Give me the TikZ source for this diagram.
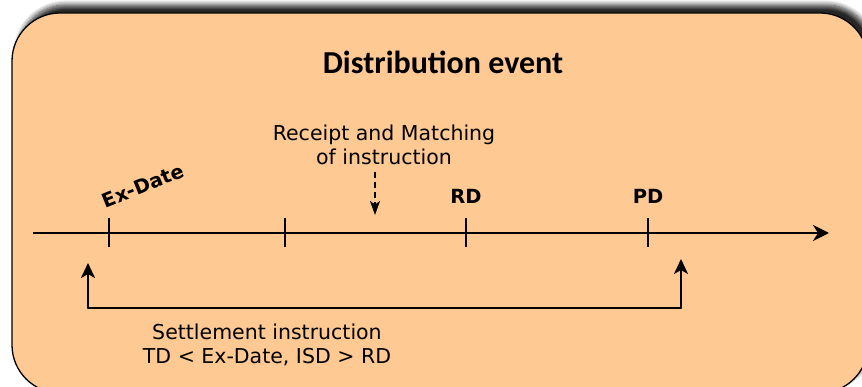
\documentclass[tikz,border=0pt]{standalone}
\usepackage{fontspec}
\setmainfont{DejaVu Sans}
\newfontfamily\titlefont{Carlito}
\usetikzlibrary{arrows.meta,shadows.blur}
\definecolor{boxfill}{HTML}{FFC993}
\tikzset{
  axis/.style={line width=2.6pt,-{Stealth[length=16pt,width=16pt,inset=5pt]}},
  tick/.style={line width=1.6pt},
  brack/.style={line width=2.3pt,-{Stealth[length=15pt,width=14pt,inset=4pt]}},
  lbl/.style={font=\fontsize{20.5}{24.5}\selectfont,align=center,inner sep=0pt},
  blbl/.style={font=\bfseries\fontsize{19.5}{23}\selectfont,inner sep=0pt},
}
\begin{document}
\begin{tikzpicture}[x=1pt,y=-1pt]
\useasboundingbox (0,0) rectangle (862,387);
\begin{scope}
\clip (0,0) rectangle (862,387);
\draw[fill=boxfill,line width=1.3pt,rounded corners=48pt,
  blur shadow={shadow xshift=6pt,shadow yshift=8pt,shadow blur radius=5pt,shadow blur steps=8,shadow opacity=85}]
  (12,13) rectangle (868,393);
\end{scope}
\node[font=\titlefont\bfseries\fontsize{32}{36}\selectfont] (title) at (443,62) {Distribution event};
% timeline
\coordinate (tl0) at (33,233);
\coordinate (tl1) at (829,233);
\draw[axis] (tl0) -- (tl1);
\foreach \n/\x in {ex/109,t2/285,rd/466,pd/648}{
  \coordinate (\n top) at (\x,218);
  \coordinate (\n bot) at (\x,247);
  \draw[tick] (\n top) -- (\n bot);
}
\node[blbl,rotate=22] (exdate) at (143,186) {Ex-Date};
\node[blbl] (rdl) at (466,196) {RD};
\node[blbl] (pdl) at (648,196) {PD};
\node[lbl] (receipt) at (384,145) {Receipt and Matching\\of instruction};
\coordinate (dtop) at (375,172);
\coordinate (dbot) at (375,215);
\draw[line width=1.5pt,dash pattern=on 6pt off 4pt,-{Stealth[length=14pt,width=10pt,inset=3.5pt]}] (dtop) -- (dbot);
% settlement bracket
\coordinate (bl) at (88,308);
\coordinate (br) at (681,308);
\coordinate (blt) at (88,263);
\coordinate (brt) at (681,259);
\draw[line width=2.3pt,line cap=round] (bl) -- (br);
\draw[brack] (bl) -- (blt);
\draw[brack] (br) -- (brt);
\node[lbl] (settle) at (267,345) {Settlement instruction\\TD < Ex-Date, ISD > RD};
\end{tikzpicture}
\end{document}
